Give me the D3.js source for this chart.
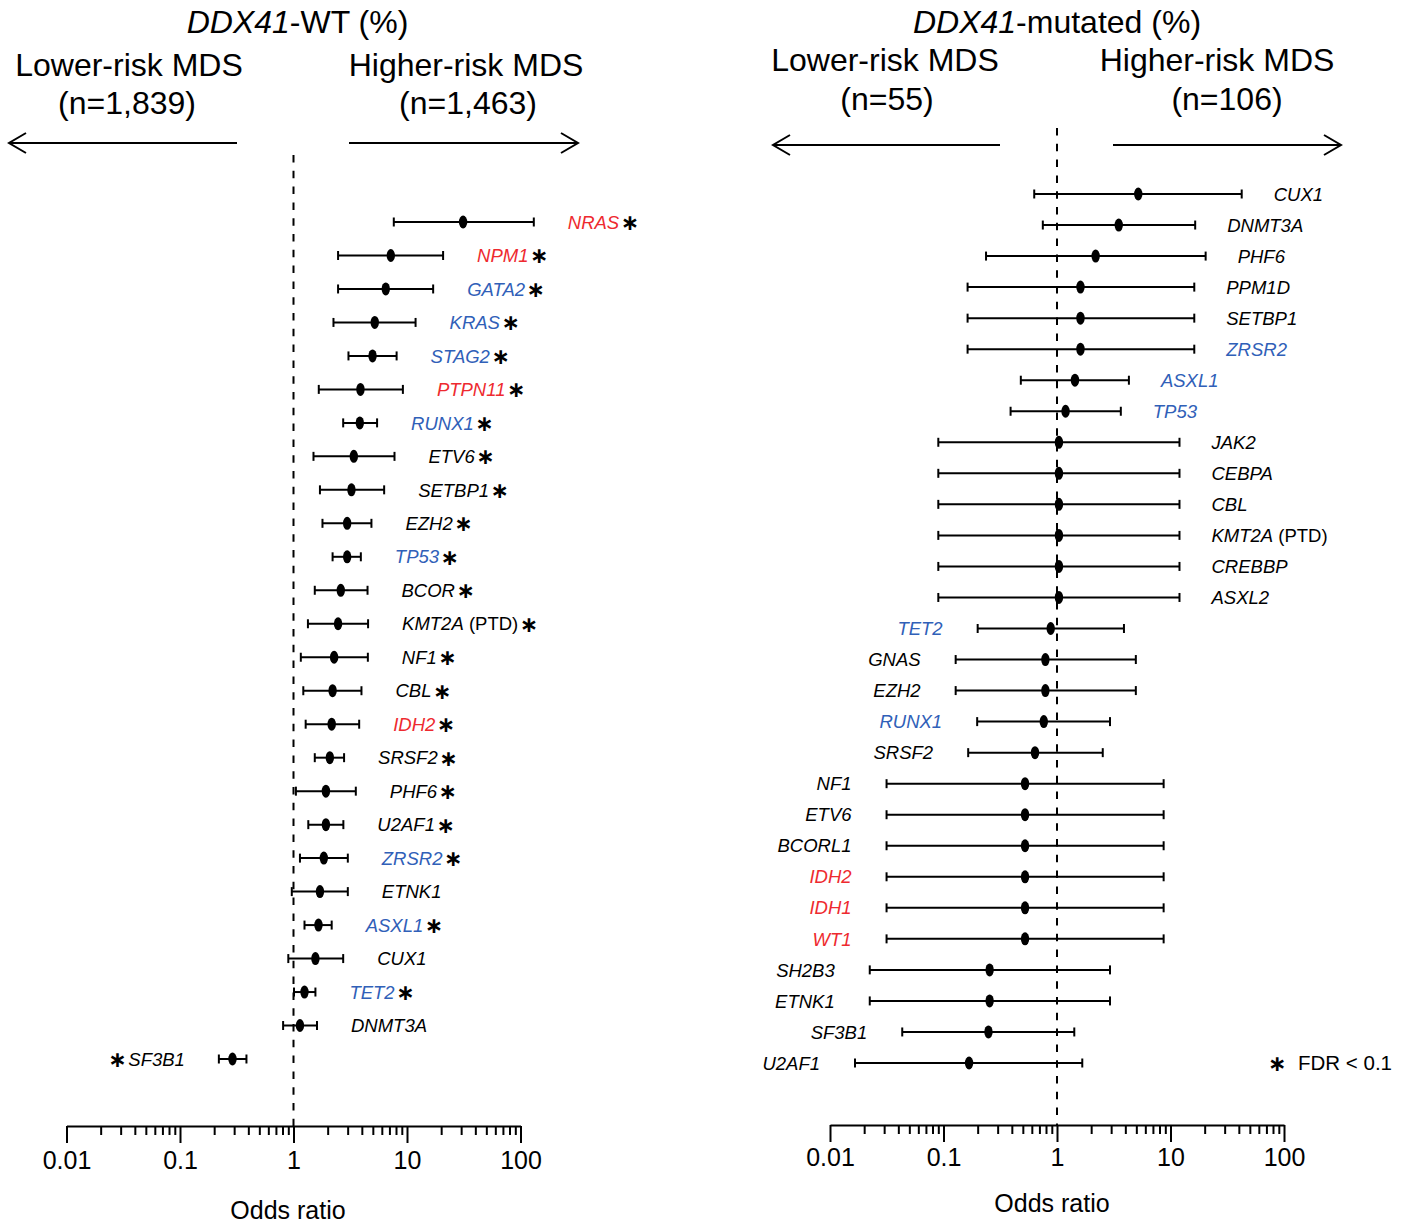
<!DOCTYPE html>
<html>
<head>
<meta charset="utf-8">
<script src="https://cdn.jsdelivr.net/npm/d3@7"></script>
<style>
  html, body { margin: 0; padding: 0; background: #fff; }
  svg { display: block; font-family: "Liberation Sans", Arial, sans-serif; }
</style>
</head>
<body>
<svg id="chart" width="1414" height="1224"></svg>
<script>
// ---- DDX41-WT cohort: odds ratios (higher-risk vs lower-risk MDS) ----
const wtGenes = ["NRAS","NPM1","GATA2","KRAS","STAG2","PTPN11","RUNX1","ETV6","SETBP1","EZH2","TP53","BCOR","KMT2A (PTD)","NF1","CBL","IDH2","SRSF2","PHF6","U2AF1","ZRSR2","ETNK1","ASXL1","CUX1","TET2","DNMT3A","SF3B1"];
const wtOR   = [31.2, 7.2, 6.5, 5.2, 4.97, 3.89, 3.84, 3.4, 3.24, 2.97, 2.97, 2.61, 2.47, 2.28, 2.21, 2.17, 2.09, 1.93, 1.93, 1.85, 1.71, 1.66, 1.56, 1.25, 1.14, 0.29];
const wtLow  = [7.65, 2.47, 2.47, 2.25, 3.05, 1.67, 2.74, 1.5, 1.71, 1.8, 2.21, 1.54, 1.34, 1.16, 1.22, 1.28, 1.54, 1.05, 1.35, 1.14, 0.966, 1.25, 0.9, 1.01, 0.81, 0.22];
const wtHigh = [131, 20.8, 17.0, 11.9, 8.1, 9.2, 5.45, 7.76, 6.29, 4.86, 3.92, 4.49, 4.54, 4.52, 3.97, 3.79, 2.79, 3.54, 2.75, 3.01, 3.01, 2.17, 2.74, 1.56, 1.61, 0.385];
const wtFDR  = [1,1,1,1,1,1,1,1,1,1,1,1,1,1,1,1,1,1,1,1,0,1,0,1,0,1];

// ---- DDX41-mutated cohort ----
const mutGenes = ["CUX1","DNMT3A","PHF6","PPM1D","SETBP1","ZRSR2","ASXL1","TP53","JAK2","CEBPA","CBL","KMT2A (PTD)","CREBBP","ASXL2","TET2","GNAS","EZH2","RUNX1","SRSF2","NF1","ETV6","BCORL1","IDH2","IDH1","WT1","SH2B3","ETNK1","SF3B1","U2AF1"];
const mutOR   = [5.2, 3.5, 2.19, 1.61, 1.61, 1.61, 1.44, 1.19, 1.04, 1.04, 1.04, 1.04, 1.04, 1.04, 0.88, 0.79, 0.79, 0.765, 0.64, 0.523, 0.523, 0.523, 0.523, 0.523, 0.523, 0.255, 0.255, 0.249, 0.168];
const mutLow  = [0.63, 0.75, 0.237, 0.163, 0.163, 0.163, 0.48, 0.39, 0.09, 0.09, 0.09, 0.09, 0.09, 0.09, 0.2, 0.128, 0.128, 0.198, 0.165, 0.0315, 0.0315, 0.0315, 0.0315, 0.0315, 0.0315, 0.0224, 0.0224, 0.0433, 0.0166];
const mutHigh = [42.4, 16.5, 20.4, 16.2, 16.2, 16.2, 4.3, 3.65, 12.0, 12.0, 12.0, 12.0, 12.0, 12.0, 3.89, 4.95, 4.95, 2.93, 2.53, 8.7, 8.7, 8.7, 8.7, 8.7, 8.7, 2.93, 2.93, 1.42, 1.67];
const mutFDR  = new Array(mutGenes.length).fill(0);

// gene groups highlighted in the labels
const redGroup  = ["NRAS","NPM1","PTPN11","IDH2","IDH1","WT1"];
const blueGroup = ["GATA2","KRAS","STAG2","RUNX1","TP53","ZRSR2","ASXL1","TET2"];

// axis ticks
const majorTicks = [0.01, 0.1, 1, 10, 100];
const tickLabels = ["0.01", "0.1", "1", "10", "100"];
const minorTicks = [];
[0.01, 0.1, 1, 10].forEach(d => { for (let k = 2; k <= 9; k++) minorTicks.push(+(d * k).toPrecision(3)); });

// header text
const wtTitle = { italic: "DDX41", rest: "-WT (%)" };
const mutTitle = { italic: "DDX41", rest: "-mutated (%)" };
const wtGroups = [["Lower-risk MDS", "(n=1,839)"], ["Higher-risk MDS", "(n=1,463)"]];
const mutGroups = [["Lower-risk MDS", "(n=55)"], ["Higher-risk MDS", "(n=106)"]];

const RED = "#ee2a2f", BLUE = "#3060b8";
const svg = d3.select("#chart");

function drawPanel(cfg) {
  const g = svg.append("g");
  const x = d3.scaleLog().domain([0.01, 100]).range([cfg.x0, cfg.x1]);
  const y = d3.scalePoint().domain(cfg.genes).range([cfg.yTop, cfg.yBot]);

  // header
  const t = g.append("text").attr("x", x(1) + cfg.titleDx).attr("y", 33)
    .attr("text-anchor", "middle").attr("font-size", 32);
  t.append("tspan").attr("font-style", "italic").text(cfg.title.italic);
  t.append("tspan").text(cfg.title.rest);

  cfg.groups.forEach((grp, i) => {
    g.append("text").attr("x", cfg.groupX[i][0]).attr("y", cfg.groupY[0])
      .attr("text-anchor", "middle").attr("font-size", 32).text(grp[0]);
    g.append("text").attr("x", cfg.groupX[i][1]).attr("y", cfg.groupY[1])
      .attr("text-anchor", "middle").attr("font-size", 32).text(grp[1]);
  });

  // direction arrows
  const ah = 17, aw = 10;
  const arrow = (from, to) => {
    const dir = Math.sign(to - from);
    g.append("line").attr("x1", from).attr("x2", to).attr("y1", cfg.arrowY).attr("y2", cfg.arrowY)
      .attr("stroke", "#000").attr("stroke-width", 2);
    g.append("path")
      .attr("d", `M${to - dir * ah},${cfg.arrowY - aw}L${to},${cfg.arrowY}L${to - dir * ah},${cfg.arrowY + aw}`)
      .attr("fill", "none").attr("stroke", "#000").attr("stroke-width", 2);
  };
  arrow(cfg.arrowL[0], cfg.arrowL[1]);
  arrow(cfg.arrowR[0], cfg.arrowR[1]);

  // reference line at OR = 1
  g.append("line").attr("x1", x(1)).attr("x2", x(1))
    .attr("y1", cfg.dashTop).attr("y2", cfg.axisY)
    .attr("stroke", "#000").attr("stroke-width", 2).attr("stroke-dasharray", "7.5,8.3");

  // axis
  const axisG = g.append("g").attr("transform", `translate(0,${cfg.axisY})`);
  axisG.call(d3.axisBottom(x).tickValues(majorTicks).tickSize(17).tickSizeOuter(0).tickPadding(cfg.tickPad)
    .tickFormat((d, i) => tickLabels[i]));
  axisG.selectAll("text").attr("font-size", 25).attr("font-family", "Liberation Sans, Arial, sans-serif").attr("fill", "#000");
  axisG.selectAll("line").attr("stroke-width", 2);
  axisG.select(".domain").attr("stroke-width", 2);
  const minorG = g.append("g").attr("transform", `translate(0,${cfg.axisY})`);
  minorG.call(d3.axisBottom(x).tickValues(minorTicks).tickSize(9).tickSizeOuter(0).tickFormat(""));
  minorG.select(".domain").remove();
  minorG.selectAll("line").attr("stroke-width", 2);

  g.append("text").attr("x", cfg.xTitleX).attr("y", cfg.xTitleY)
    .attr("text-anchor", "middle").attr("font-size", 25).text("Odds ratio");

  // rows
  const rows = cfg.genes.map((gene, i) => ({
    gene, or: cfg.or[i], lo: cfg.lo[i], hi: cfg.hi[i], fdr: cfg.fdr[i]
  }));
  const row = g.selectAll(".row").data(rows).join("g").attr("class", "row")
    .attr("transform", d => `translate(0,${y(d.gene)})`);

  row.append("line").attr("x1", d => x(d.lo)).attr("x2", d => x(d.hi))
    .attr("stroke", "#000").attr("stroke-width", 2);
  row.append("line").attr("x1", d => x(d.lo)).attr("x2", d => x(d.lo)).attr("y1", -4.5).attr("y2", 4.5)
    .attr("stroke", "#000").attr("stroke-width", 2);
  row.append("line").attr("x1", d => x(d.hi)).attr("x2", d => x(d.hi)).attr("y1", -4.5).attr("y2", 4.5)
    .attr("stroke", "#000").attr("stroke-width", 2);
  row.append("ellipse").attr("cx", d => x(d.or)).attr("rx", 4.2).attr("ry", 6.5).attr("fill", "#000");

  row.each(function (d) {
    const r = d3.select(this);
    const right = d.or >= 1;
    const color = redGroup.includes(d.gene) ? RED : blueGroup.includes(d.gene) ? BLUE : "#000";
    const m = d.gene.match(/^(\S+)(\s.*)?$/);
    const lab = r.append("text").attr("font-size", 18.5).attr("dy", "0.36em").attr("fill", color)
      .attr("text-anchor", right ? "start" : "end")
      .attr("x", right ? x(d.hi) + cfg.gapR : x(d.lo) - cfg.gapL);
    lab.append("tspan").attr("font-style", "italic").text(m[1]);
    if (m[2]) lab.append("tspan").attr("fill", "#000").text(m[2]);
    if (d.fdr) {
      const w = lab.node().getComputedTextLength();
      const sx = right ? x(d.hi) + cfg.gapR + w + 1.5 : x(d.lo) - cfg.gapL - w - 1.5;
      r.append("text").attr("x", sx).attr("y", 8)
        .attr("text-anchor", right ? "start" : "end")
        .attr("font-family", "DejaVu Sans, sans-serif").attr("font-weight", "bold")
        .attr("font-size", 22).text("\u2217");
    }
  });
  return x;
}

drawPanel({
  genes: wtGenes, or: wtOR, lo: wtLow, hi: wtHigh, fdr: wtFDR,
  x0: 66.5, x1: 520.5, yTop: 222, yBot: 1059, axisY: 1126, dashTop: 155, tickPad: 8,
  title: wtTitle, titleDx: 4, groups: wtGroups,
  groupX: [[129, 127], [466, 468]], groupY: [76, 114],
  arrowY: 143, arrowL: [237, 9], arrowR: [349, 578],
  xTitleX: 288, xTitleY: 1219, gapR: 34, gapL: 34
});

drawPanel({
  genes: mutGenes, or: mutOR, lo: mutLow, hi: mutHigh, fdr: mutFDR,
  x0: 830, x1: 1284, yTop: 194, yBot: 1063, axisY: 1125, dashTop: 128, tickPad: 6,
  title: mutTitle, titleDx: 0, groups: mutGroups,
  groupX: [[885, 887], [1217, 1227]], groupY: [71, 110],
  arrowY: 145, arrowL: [1000, 773], arrowR: [1113, 1341],
  xTitleX: 1052, xTitleY: 1212, gapR: 32, gapL: 35
});

// FDR legend
const leg = svg.append("g").attr("transform", "translate(1268,1063)");
leg.append("text").attr("x", 0).attr("y", 8).attr("font-family", "DejaVu Sans, sans-serif")
  .attr("font-weight", "bold").attr("font-size", 22).text("\u2217");
leg.append("text").attr("x", 30).attr("dy", "0.36em").attr("font-size", 20.5).text("FDR < 0.1");
</script>
</body>
</html>
